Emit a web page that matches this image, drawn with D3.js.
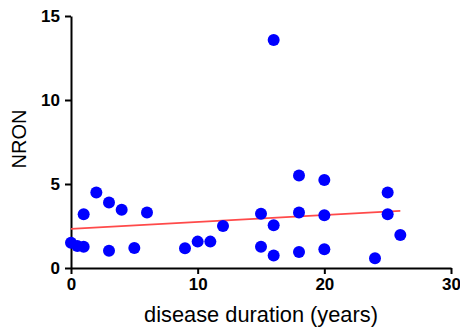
<!DOCTYPE html>
<html>
<head>
<meta charset="utf-8">
<script src="https://cdn.jsdelivr.net/npm/d3@7"></script>
<style>
  html, body { margin: 0; padding: 0; background: #fff; }
  svg { display: block; }
</style>
</head>
<body>
<svg id="chart" width="460" height="328"></svg>
<script>
// Data
const durationYears = [0, 0.5, 1, 1, 2, 3, 3, 4, 5, 6, 9, 10, 11, 12, 15, 15, 16, 16, 16, 18, 18, 18, 20, 20, 20, 24, 25, 25, 26];
const nronValues    = [1.5, 1.31, 1.27, 3.2, 4.5, 3.9, 1.03, 3.47, 1.19, 3.3, 1.17, 1.57, 1.57, 2.5, 3.23, 1.27, 2.54, 0.75, 13.57, 5.5, 3.3, 0.95, 5.24, 3.14, 1.11, 0.58, 4.5, 3.2, 1.96];
const xTicks = [0, 10, 20, 30];
const yTicks = [0, 5, 10, 15];
const xTitle = "disease duration (years)";
const yTitle = "NRON";

const svg = d3.select("#chart");
const x = d3.scaleLinear().domain([0, 30]).range([71, 451]);
const y = d3.scaleLinear().domain([0, 15]).range([268, 16]);

// Linear regression (least squares) of the data
const n = durationYears.length;
const mx = d3.mean(durationYears), my = d3.mean(nronValues);
let sxy = 0, sxx = 0;
for (let i = 0; i < n; i++) {
  sxy += (durationYears[i] - mx) * (nronValues[i] - my);
  sxx += (durationYears[i] - mx) ** 2;
}
const slope = sxy / sxx, intercept = my - slope * mx;
const xExt = d3.extent(durationYears);
const fitPts = xExt.map(v => [v, intercept + slope * v]);

// Axes
const xAxis = d3.axisBottom(x).tickValues(xTicks).tickSize(6).tickSizeOuter(0).tickFormat(d3.format("d"));
const yAxis = d3.axisLeft(y).tickValues(yTicks).tickSize(6).tickSizeOuter(0).tickFormat(d3.format("d"));

const gx = svg.append("g").attr("transform", "translate(0,268)").call(xAxis);
const gy = svg.append("g").attr("transform", "translate(71,0)").call(yAxis);

[gx, gy].forEach(g => {
  g.select(".domain").attr("stroke", "#000").attr("stroke-width", 2);
  g.selectAll(".tick line").attr("stroke", "#000").attr("stroke-width", 2);
  g.selectAll(".tick text")
    .attr("fill", "#000")
    .style("font-family", "'Liberation Sans', Arial, sans-serif")
    .style("font-size", "17px")
    .style("font-weight", "bold");
});
gx.selectAll(".tick text").attr("y", 10).attr("dy", "0.71em");
gy.selectAll(".tick text").attr("x", -11).attr("dy", "0.35em");

// Regression line
svg.append("path")
  .datum(fitPts)
  .attr("d", d3.line().x(d => x(d[0])).y(d => y(d[1])))
  .attr("fill", "none")
  .attr("stroke", "#ff4a4a")
  .attr("stroke-width", 1.6);

// Points
svg.append("g").selectAll("circle")
  .data(durationYears.map((d, i) => [d, nronValues[i]]))
  .join("circle")
  .attr("cx", d => x(d[0]))
  .attr("cy", d => y(d[1]))
  .attr("r", 6)
  .attr("fill", "#0000ff");

// Titles
svg.append("text")
  .attr("x", (x(0) + x(30)) / 2)
  .attr("y", 322)
  .attr("text-anchor", "middle")
  .style("font-family", "'Liberation Sans', Arial, sans-serif")
  .style("font-size", "21.8px")
  .attr("fill", "#000")
  .text(xTitle);

svg.append("text")
  .attr("transform", "translate(26,139) rotate(-90)")
  .attr("text-anchor", "middle")
  .style("font-family", "'Liberation Sans', Arial, sans-serif")
  .style("font-size", "20px")
  .attr("fill", "#000")
  .text(yTitle);
</script>
</body>
</html>
